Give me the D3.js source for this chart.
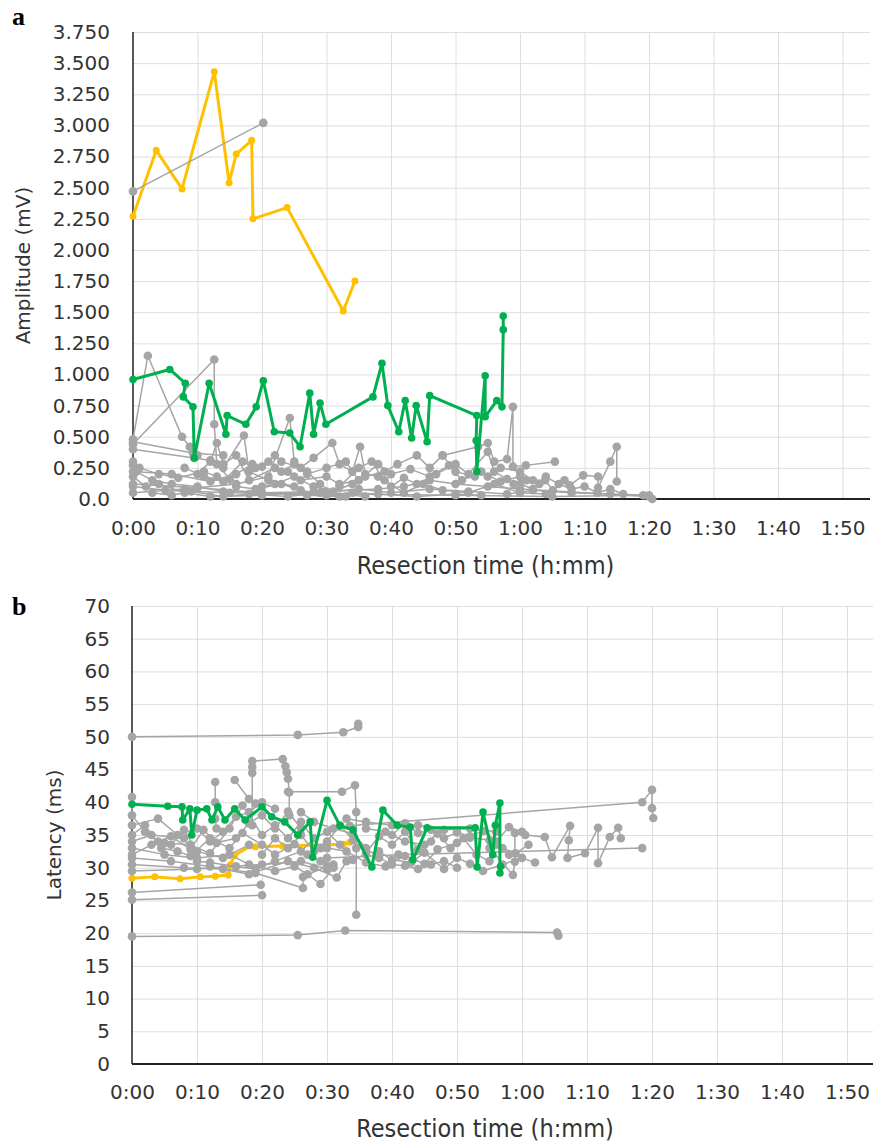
<!DOCTYPE html>
<html>
<head>
<meta charset="utf-8">
<script src="https://cdn.jsdelivr.net/npm/d3@7"></script>
<style>
  body { margin: 0; background: #fff; }
  text { font-family: "DejaVu Sans", Verdana, sans-serif; }
</style>
</head>
<body>
<svg id="chart" width="873" height="1147"></svg>
<script>
// x axis: resection time in minutes
var xTickVals = [0,10,20,30,40,50,60,70,80,90,100,110];
var xTickLabels = ["0:00","0:10","0:20","0:30","0:40","0:50","1:00","1:10","1:20","1:30","1:40","1:50"];

// panel a ticks
var ampTicks = [0,0.25,0.5,0.75,1,1.25,1.5,1.75,2,2.25,2.5,2.75,3,3.25,3.5,3.75];
var ampTickLabels = ["0.0","0.250","0.500","0.750","1.000","1.250","1.500","1.750","2.000","2.250","2.500","2.750","3.000","3.250","3.500","3.750"];

// panel b ticks
var latTicks = [0,5,10,15,20,25,30,35,40,45,50,55,60,65,70];
var latTickLabels = latTicks.map(String);

// [minutes, mV]
var ampYellow = [[0,2.27],[3.6,2.80],[7.6,2.49],[12.6,3.43],[14.9,2.54],[16,2.77],[18.4,2.88],[18.6,2.25],[23.9,2.34],[32.6,1.51],[34.4,1.75]];
var ampGreen = [[0,0.96],[5.7,1.04],[8.1,0.93],[7.8,0.82],[9.3,0.74],[9.5,0.33],[11.8,0.93],[14.4,0.52],[14.6,0.67],[17.5,0.60],[19.1,0.74],[20.2,0.95],[21.9,0.54],[24.3,0.53],[25.9,0.42],[27.4,0.85],[28,0.52],[29,0.77],[29.9,0.60],[37.2,0.82],[38.6,1.09],[39.5,0.75],[41.2,0.54],[42.2,0.79],[43.2,0.49],[43.9,0.75],[45.6,0.46],[46,0.83],[53.3,0.67],[53.2,0.47],[53.3,0.22],[54.6,0.99],[54.6,0.66],[56.4,0.79],[57.2,0.74],[57.4,1.36],[57.4,1.47]];
var ampGray = [
  [[0,2.47],[20.2,3.02]],
  [[0,0.48],[2.3,1.15],[7.6,0.50],[8.8,0.42],[10,0.35]],
  [[0,0.44],[12.6,1.12],[12.6,0.60],[13,0.28],[15,0.16]],
  [[0,0.40],[9.5,0.33],[12,0.31],[14,0.25],[17.2,0.51],[18,0.22],[21,0.15],[25,0.10]],
  [[0,0.27],[0.5,0.22],[3,0.15],[6,0.12],[10,0.10],[14,0.06],[20,0.05],[27,0.03],[32,0.02]],
  [[0,0.10],[5,0.07],[15,0.05],[30,0.04],[50,0.03],[65,0.02],[79.1,0.03],[80.5,0.0]],
  [[0,0.05],[8,0.08],[16,0.12],[21,0.18],[24.3,0.65],[25,0.30],[27,0.22],[29,0.12],[31,0.05],[33,0.02]],
  [[0,0.22],[6,0.20],[12,0.14],[16,0.20],[18.5,0.28],[20,0.26],[22,0.35],[23,0.30],[26,0.25],[28,0.33],[30.9,0.45],[32,0.28],[34,0.22],[35.2,0.42],[36,0.20],[38,0.18]],
  [[20,0.10],[22,0.12],[25,0.18],[28,0.10],[31,0.06],[34,0.12],[36,0.18],[39,0.22],[41,0.28],[44,0.35],[46,0.25],[48,0.35],[50,0.22],[53,0.18]],
  [[0,0.12],[10,0.09],[20,0.05],[30,0.06],[38,0.08],[42,0.10],[46,0.15],[50,0.12],[55,0.10],[60,0.08],[80,0.02]],
  [[48,0.35],[53.5,0.42],[55,0.45],[56,0.30],[58,0.32],[58.9,0.74],[58.9,0.26],[60.9,0.27],[65.4,0.30]],
  [[55,0.18],[57,0.25],[60,0.22],[62,0.15],[63.9,0.15],[65.1,0.07],[66.9,0.15],[67.7,0.11],[69.8,0.19],[72.1,0.18],[72.1,0.09],[74,0.30],[75,0.42],[75,0.14]],
  [[32,0.10],[35,0.25],[37,0.30],[39,0.15],[42,0.05],[45,0.12],[48,0.07],[52,0.05],[56,0.12],[60,0.05],[64,0.04]],
  [[0,0.18],[2,0.10],[4,0.12],[8,0.05],[12,0.02],[20,0.03],[28,0.06],[36,0.02]],
  [[0,0.46],[9.3,0.37],[14,0.35]],
  [[10,0.20],[12,0.30],[13,0.45],[14,0.28],[16,0.35],[18,0.15],[22,0.25]],
  [[0,0.30],[1,0.25],[4,0.20],[7,0.17],[11,0.22],[13,0.18],[16,0.10],[19,0.08],[23,0.12],[26,0.07],[30,0.03],[34,0.05],[38,0.04],[44,0.02],[50,0.04],[54,0.03]],
  [[3,0.05],[6,0.03],[9,0.06],[14,0.02],[18,0.04],[24,0.02],[29,0.05],[35,0.08],[40,0.05],[46,0.08],[52,0.06],[58,0.04],[62,0.07],[68,0.05],[74,0.04],[80,0.03]],
  [[24,0.22],[26,0.15],[30,0.18],[32,0.12],[35,0.15],[38,0.28],[40,0.20],[43,0.24],[46,0.18],[49,0.27],[51,0.15],[54,0.22],[57,0.14],[60,0.18],[63,0.12]],
  [[40,0.10],[42,0.17],[44,0.12],[47,0.20],[50,0.28],[52,0.20],[55,0.38],[56,0.22],[58,0.16],[59,0.12],[61,0.15]],
  [[8,0.25],[11,0.18],[14,0.14],[17,0.30],[19,0.25],[21,0.30],[23,0.22],[25,0.28],[27,0.20],[30,0.25],[33,0.30],[35,0.15]],
  [[60,0.12],[62,0.08],[64,0.18],[66,0.12],[68,0.08],[70,0.10],[72,0.05],[74,0.08],[76,0.04]]
];

// [minutes, ms]
var latYellow = [[0,28.4],[3.5,28.6],[7.4,28.3],[10.5,28.6],[12.8,28.7],[14.8,28.9],[15.1,30.4],[15.8,31.9],[18.2,33.3],[19,33.2],[23.2,33.3],[32.5,33.6],[33.5,33.9]];
var latGreen = [[0,39.7],[5.5,39.4],[7.7,39.3],[7.8,37.3],[8.9,39.0],[9.2,35.0],[10,38.8],[11.5,39.0],[12.3,37.3],[13.2,39.3],[14.3,37.3],[15.8,39.0],[17.4,37.3],[20,39.3],[21.5,37.8],[23.5,37.0],[25.5,35.0],[27.4,37.0],[27.8,31.6],[30,40.3],[32,36.4],[34,35.8],[36.9,30.1],[38.6,38.8],[40.8,36.5],[42.8,36.2],[43.2,31.2],[45.4,36.1],[52.8,36.1],[53.1,30.1],[54,38.5],[55.5,32],[55.9,36.5],[56.6,39.9],[56.6,29.2],[56.7,30.2]];
var latGray = [
  [[0,50],[25.5,50.3],[32.5,50.7],[34.8,51.5],[34.8,52.0]],
  [[0,19.5],[25.5,19.7],[32.8,20.4],[65.4,20.1],[65.6,19.6]],
  [[0,26.2],[19.8,27.4]],
  [[0,25.1],[20,25.8]],
  [[24,41.6],[32.3,41.6],[34.3,42.6],[34.5,38.5],[34.5,33],[34.5,22.8]],
  [[18.5,36.5],[18.5,44.5],[18.5,45.4],[18.5,46.3],[23.2,46.6],[23.6,45.5],[23.8,44.6],[24,43.6],[24.2,41.5],[24.2,38]],
  [[12.8,43.1],[12.8,40],[12.8,37.5],[13,36]],
  [[15.8,43.4],[18,40.5],[19,39.8]],
  [[33.5,36.4],[78.5,40.0],[80,41.9],[80,39.1],[80.2,37.6]],
  [[30,31.5],[41,32],[78.5,33.0]],
  [[55,33],[58.6,28.9],[58.9,30.9],[58.9,35.3],[60.5,35.0],[63.5,34.7],[64.6,31.6],[67.4,36.4],[67.2,34.2],[67,31.5],[69.7,32.2],[71.7,36.1],[71.7,30.7],[73.5,34.7],[74.8,36.1],[75.2,34.5]],
  [[0,40.8],[0,38],[2,35.5],[4,34],[6,33.5],[8,35.8],[10,32.5],[14,31.5],[18,33.5]],
  [[0,35.0],[2,36.5],[4.5,33],[7,32.5],[9,31.8],[12,34.5],[15,33],[17,35.3],[20,33.5],[22,32],[25,33.6],[27,32],[29,31],[31,30.5]],
  [[0,34],[3,35],[8,34.5],[10,31],[12,30.8],[16,30.2],[19,29.8],[22,31],[26,32.5],[28,34.5],[30,35.5],[32,33.5],[34,31.2]],
  [[0,33],[5,32],[10,31.5],[15,32],[18,30.5],[22,29.5],[25,30.2],[27,29],[29,27.5],[31,30]],
  [[0,31.5],[6,31],[12,30.2],[18,29],[24,31],[28,30],[31.5,28.5],[33,31],[36,32]],
  [[0,30.5],[8,30],[14,29.8],[19,29.2],[26.3,26.9],[26.3,28.6],[30,30.2]],
  [[26,38.5],[28,37],[31,36],[34,35.2],[36,33],[38,31.5],[40,30.5],[42,30.3],[44,29.8],[46,30.5],[48,31],[50,30]],
  [[36,36],[39,35.5],[42,34],[45,33.5],[47,35.2],[49,33],[51,34.5],[53,32],[55,31],[56,33.5],[58,32]],
  [[38,32.5],[40,31.2],[43,30.8],[45,32.3],[48,29.8],[50,31.5],[52,30.6],[54,29.5],[57,30.5],[60,31.5],[62,30.8]],
  [[33,37.5],[36,37],[40,36.5],[44,36.5],[48,35.8],[52,36],[56,35.5]],
  [[0,36.5],[4,37.5],[7,35],[10,36],[12,34],[14,35.5],[16,37.8],[18,38.5],[20,40],[22,39]],
  [[5,33.8],[9,33.5],[12,32.2],[15,36],[17,39.5],[20,35],[22,36.5],[24,34.5],[26,37],[29,33]],
  [[0,29.5],[10,29.8],[20,30.5],[26,31],[30,29.8]],
  [[20,32],[22,34.5],[24,33],[26,35],[28,32.5],[30,34],[32,36.5],[34,34.2],[36,32.3],[38,34.8],[40,33.5],[42,35.5],[44,32.8],[46,34]],
  [[0,32],[3,33.5],[6,34.8],[9,32.8],[11,35.8],[13,33.8],[16,34.5],[18,36.8],[20,38],[22,36],[24,38.6],[26,36]],
  [[30,33],[33,32.5],[36,30.8],[39,30.2],[42,31.8],[45,30.6],[47,32.8],[50,33.8],[52,34.6],[55,34.2],[57,33],[59,32.2],[61,33.5]],
  [[40,35],[42,36.8],[44,35.3],[46,35.8],[48,34.5],[50,35.4],[52,34.8],[54,35.6],[56,34],[58,36.2],[60,35.5]]
];

var GRAY = "#a5a5a5", YELLOW = "#ffc000", GREEN = "#00b050";
var svg = d3.select("#chart");

function drawPanel(p) {
  var x = d3.scaleLinear().domain([0, p.xMax]).range([p.left, p.right]);
  var y = d3.scaleLinear().domain([0, p.yMax]).range([p.bottom, p.top]);
  var g = svg.append("g");

  // gridlines
  g.append("g").attr("transform", `translate(0,${p.bottom})`)
    .call(d3.axisBottom(x).tickValues(xTickVals.slice(1)).tickSize(-(p.bottom - p.top)).tickFormat(""))
    .call(s => s.select(".domain").remove())
    .selectAll("line").attr("stroke", "#dedede");
  g.append("g").attr("transform", `translate(${p.left},0)`)
    .call(d3.axisLeft(y).tickValues(p.yTicks.slice(1)).tickSize(-(p.right - p.left)).tickFormat(""))
    .call(s => s.select(".domain").remove())
    .selectAll("line").attr("stroke", "#dedede");

  // tick labels
  var xa = g.append("g").attr("transform", `translate(0,${p.bottom})`)
    .call(d3.axisBottom(x).tickValues(xTickVals).tickFormat((d, i) => xTickLabels[i]).tickSize(0).tickPadding(p.xPad));
  xa.select(".domain").remove();
  xa.selectAll("text").attr("font-size", 20).attr("fill", "#333").style("font-family", "DejaVu Sans");

  var ya = g.append("g").attr("transform", `translate(${p.left},0)`)
    .call(d3.axisLeft(y).tickValues(p.yTicks).tickFormat((d, i) => p.yLabels[i]).tickSize(0).tickPadding(p.yPad));
  ya.select(".domain").remove();
  ya.selectAll("text").attr("font-size", 20).attr("fill", "#333").style("font-family", "DejaVu Sans");

  // axis lines
  g.append("line").attr("x1", p.left).attr("x2", p.left).attr("y1", p.top).attr("y2", p.bottom)
    .attr("stroke", "#222").attr("stroke-width", 1.5);
  g.append("line").attr("x1", p.left).attr("x2", p.right).attr("y1", p.bottom).attr("y2", p.bottom)
    .attr("stroke", "#222").attr("stroke-width", 2);

  var line = d3.line().x(d => x(d[0])).y(d => y(d[1]));

  function series(data, color, lw, r) {
    var s = g.append("g");
    s.append("path").datum(data).attr("d", line).attr("fill", "none")
      .attr("stroke", color).attr("stroke-width", lw).attr("stroke-linejoin", "round");
    s.selectAll("circle").data(data).enter().append("circle")
      .attr("cx", d => x(d[0])).attr("cy", d => y(d[1])).attr("r", r).attr("fill", color);
  }

  series(p.yellow, YELLOW, 3, 3.5);
  p.gray.forEach(d => series(d, GRAY, 1.5, 4.3));
  series(p.green, GREEN, 3, 3.8);

  // titles
  g.append("text").attr("x", (p.left + 838) / 2).attr("y", p.xTitleY).attr("text-anchor", "middle")
    .attr("font-size", 25).attr("fill", "#333")
    .style("font-family", "'DejaVu Sans Condensed', 'DejaVu Sans'").style("font-stretch", "condensed")
    .text("Resection time (h:mm)");
  g.append("text").attr("transform", `translate(${p.yTitleX},${(p.top + p.bottom) / 2}) rotate(-90)`)
    .attr("text-anchor", "middle").attr("font-size", 20).attr("fill", "#333")
    .text(p.yTitle);
  g.append("text").attr("x", 12).attr("y", p.letterY).attr("font-size", 26).attr("font-weight", "bold")
    .style("font-family", "'Liberation Serif', serif").text(p.letter);
}

drawPanel({
  left: 133, right: 870, top: 32, bottom: 499, xMax: 114.26, yMax: 3.75,
  yTicks: ampTicks, yLabels: ampTickLabels, xPad: 22, yPad: 23,
  yellow: ampYellow, green: ampGreen, gray: ampGray,
  xTitleY: 574, yTitleX: 30, yTitle: "Amplitude (mV)", letter: "a", letterY: 25
});

drawPanel({
  left: 132, right: 873, top: 606, bottom: 1064, xMax: 114, yMax: 70,
  yTicks: latTicks, yLabels: latTickLabels, xPad: 21, yPad: 22,
  yellow: latYellow, green: latGreen, gray: latGray,
  xTitleY: 1137, yTitleX: 61, yTitle: "Latency (ms)", letter: "b", letterY: 615
});
</script>
</body>
</html>
